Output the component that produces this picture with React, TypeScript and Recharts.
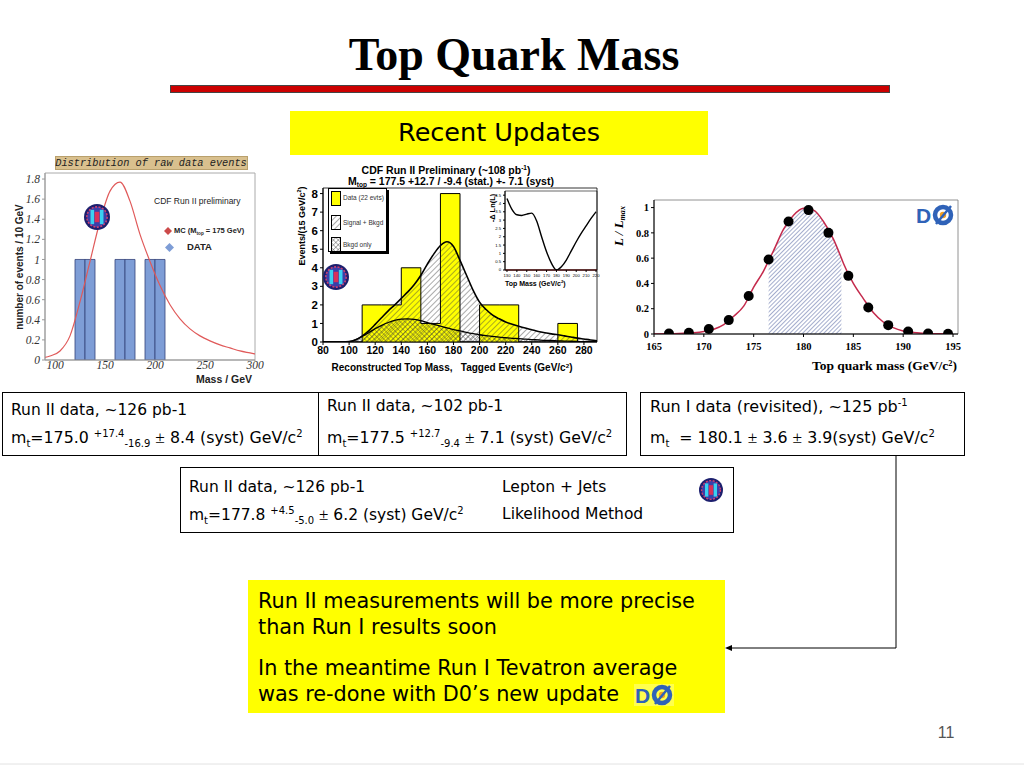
import React from "react";
import {
  ComposedChart,
  LineChart,
  Line,
  Area,
  Bar,
  Scatter,
  XAxis,
  YAxis,
  ReferenceArea,
  ReferenceLine,
} from "recharts";

// ---- left panel: distribution of raw data events (CDF Run II) ----
const MC_MASS = [85, 95, 105, 115, 125, 135, 145, 155, 165, 175, 185, 195, 205, 215, 225, 235, 245, 255, 265, 275, 285, 295, 305];
const MC_EVENTS = [0.015, 0.04, 0.09, 0.24, 0.58, 0.98, 1.38, 1.68, 1.77, 1.58, 1.25, 0.98, 0.74, 0.55, 0.41, 0.31, 0.24, 0.19, 0.15, 0.12, 0.09, 0.07, 0.05];
const RAW_BIN_CENTERS = [125, 135, 165, 175, 195, 205];
const RAW_BIN_EVENTS = [1, 1, 1, 1, 1, 1];
const RAW_X_TICKS = [100, 150, 200, 250, 300];
const RAW_Y_TICKS = [0, 0.2, 0.4, 0.6, 0.8, 1, 1.2, 1.4, 1.6, 1.8];

// ---- middle panel: reconstructed top mass, tagged events ----
const RECO_BIN_EDGES = [80, 95, 110, 125, 140, 155, 170, 185, 200, 215, 230, 245, 260, 275, 290];
const RECO_BIN_EVENTS = [0, 0, 2, 2, 4, 1, 8, 0, 2, 2, 0, 0, 1, 0, 0];
const RECO_MASS = [80, 85, 90, 95, 100, 105, 110, 115, 120, 125, 130, 135, 140, 145, 150, 155, 160, 165, 170, 175, 180, 185, 190, 195, 200, 205, 210, 215, 220, 225, 230, 235, 240, 245, 250, 255, 260, 265, 270, 275, 280, 285, 290];
const SIG_BKG = [0, 0, 0, 0, 0.02, 0.12, 0.32, 0.6, 0.95, 1.32, 1.68, 2.0, 2.35, 2.7, 3.1, 3.6, 4.2, 4.75, 5.2, 5.4, 5.15, 4.4, 3.6, 2.8, 2.15, 1.75, 1.45, 1.25, 1.08, 0.96, 0.85, 0.75, 0.66, 0.57, 0.5, 0.44, 0.39, 0.33, 0.27, 0.21, 0.16, 0.11, 0.07];
const BKG_ONLY = [0, 0, 0, 0, 0.02, 0.12, 0.3, 0.5, 0.72, 0.9, 1.05, 1.17, 1.23, 1.25, 1.22, 1.15, 1.05, 0.95, 0.85, 0.76, 0.67, 0.6, 0.52, 0.45, 0.39, 0.34, 0.3, 0.26, 0.23, 0.2, 0.18, 0.15, 0.13, 0.11, 0.09, 0.08, 0.06, 0.05, 0.04, 0.03, 0.02, 0.015, 0.01];
const RECO_X_TICKS = [80, 100, 120, 140, 160, 180, 200, 220, 240, 260, 280];
const RECO_Y_TICKS = [0, 1, 2, 3, 4, 5, 6, 7, 8];

// inset: -delta ln(L)
const INSET_MASS = [130, 135, 140, 145, 150, 155, 160, 165, 170, 175, 180, 185, 190, 195, 200, 205, 210, 215, 220];
const INSET_NLL = [4.3, 3.65, 3.32, 3.28, 3.36, 3.42, 2.95, 2.0, 1.1, 0.4, 0.0, 0.2, 0.6, 1.15, 1.7, 2.2, 2.65, 3.1, 3.5];
const INSET_X_TICKS = [130, 140, 150, 160, 170, 180, 190, 200, 210, 220];
const INSET_Y_TICKS = [0, 0.5, 1, 1.5, 2, 2.5, 3, 3.5, 4, 4.5];

// ---- right panel: D0 Run I likelihood ----
const D0_POINT_MASS = [166.5, 168.5, 170.5, 172.5, 174.5, 176.5, 178.5, 180.5, 182.5, 184.5, 186.5, 188.5, 190.5, 192.5, 194.5];
const D0_POINT_L = [0.003, 0.01, 0.04, 0.11, 0.3, 0.59, 0.89, 0.98, 0.8, 0.46, 0.21, 0.07, 0.02, 0.004, 0.002];
const D0_FIT_MASS = [165, 166, 167, 168, 169, 170, 171, 172, 173, 174, 175, 176, 176.5, 177, 178, 179, 180, 181, 182, 183, 183.8, 184, 185, 186, 187, 188, 189, 190, 191, 192, 193, 194, 195];
const D0_FIT_L = [0, 0.001, 0.002, 0.005, 0.01, 0.02, 0.038, 0.075, 0.14, 0.22, 0.37, 0.5, 0.58, 0.66, 0.83, 0.94, 0.995, 0.98, 0.89, 0.75, 0.6, 0.56, 0.4, 0.28, 0.17, 0.095, 0.05, 0.024, 0.011, 0.005, 0.002, 0.001, 0];
const D0_BAND = [176.5, 183.8];
const D0_X_TICKS = [165, 170, 175, 180, 185, 190, 195];
const D0_Y_TICKS = [0, 0.2, 0.4, 0.6, 0.8, 1];

const rawTable = MC_MASS.map((m, i) => {
  const b = RAW_BIN_CENTERS.indexOf(m);
  return { mass: m, mc: MC_EVENTS[i], data: b >= 0 ? RAW_BIN_EVENTS[b] : null };
});

const recoTable = RECO_MASS.map((m, i) => {
  const b = RECO_BIN_EDGES.indexOf(m);
  const v = b >= 0 ? RECO_BIN_EVENTS[b] : null;
  return { mass: m, sig: SIG_BKG[i], bkg: BKG_ONLY[i], data: v, edge: v };
});

const insetTable = INSET_MASS.map((m, i) => ({ mass: m, nll: INSET_NLL[i] }));

const d0Fit = D0_FIT_MASS.map((m, i) => ({
  mass: m,
  fit: D0_FIT_L[i],
  band: m >= D0_BAND[0] && m <= D0_BAND[1] ? D0_FIT_L[i] : null,
}));
const d0Points = D0_POINT_MASS.map((m, i) => ({ mass: m, L: D0_POINT_L[i] }));

const SERIF = '"Liberation Serif", "Times New Roman", serif';
const SANS = '"Liberation Sans", Arial, sans-serif';
const HAND = '"DejaVu Sans", sans-serif';

type LabelProps = {
  x: number;
  y: number;
  size: number;
  anchor?: "start" | "middle" | "end";
  rotate?: boolean;
  style?: React.CSSProperties;
  children: React.ReactNode;
};

function Label({ x, y, size, anchor = "start", rotate = false, style, children }: LabelProps) {
  const tx = anchor === "start" ? "0" : anchor === "middle" ? "-50%" : "-100%";
  return (
    <div
      style={{
        position: "absolute",
        left: x,
        top: y,
        fontSize: size,
        lineHeight: 1,
        whiteSpace: "pre",
        transform: rotate ? "translate(-50%,-50%) rotate(-90deg)" : `translate(${tx},-50%)`,
        ...style,
      }}
    >
      {children}
    </div>
  );
}

const sup: React.CSSProperties = { fontSize: "0.62em", verticalAlign: "0.55em", lineHeight: 0 };
const sub: React.CSSProperties = { fontSize: "0.62em", verticalAlign: "-0.3em", lineHeight: 0 };
// small fixed-size indices used in the result boxes
const bsup: React.CSSProperties = { fontSize: 10, verticalAlign: "0.6em", lineHeight: 0 };
const bsub: React.CSSProperties = { fontSize: 10, verticalAlign: "-0.35em", lineHeight: 0 };
const pm: React.CSSProperties = { fontFamily: SERIF, fontSize: "1.1em" };

function CdfLogo({ x, y, r }: { x: number; y: number; r: number }) {
  return (
    <svg style={{ position: "absolute", left: x - r, top: y - r }} width={2 * r} height={2 * r}>
      <circle cx={r} cy={r} r={r} fill="#1c1f6e" />
      <circle cx={r} cy={r} r={r * 0.78} fill="#3b3fa8" stroke="#d04070" strokeWidth={r * 0.12} strokeDasharray="2 1.5" />
      <rect x={r * 0.5} y={r * 0.45} width={r * 0.28} height={r * 1.1} fill="#3ad0f0" />
      <rect x={r * 1.22} y={r * 0.45} width={r * 0.28} height={r * 1.1} fill="#3ad0f0" />
      <rect x={r * 0.82} y={r * 0.6} width={r * 0.36} height={r * 0.8} fill="#d8305a" />
    </svg>
  );
}

function D0Logo({ x, y, w, h }: { x: number; y: number; w: number; h: number }) {
  return (
    <svg style={{ position: "absolute", left: x, top: y }} width={w} height={h} viewBox="0 0 40 22">
      <rect x={0} y={0} width={40} height={22} fill="#ffffff" opacity={0.3} />
      <text x={1} y={19} fontFamily={SANS} fontWeight={900} fontSize={21} fill="#2f62b8">D</text>
      <circle cx={28} cy={11} r={8} fill="none" stroke="#2f62b8" strokeWidth={4.5} />
      <circle cx={28} cy={11} r={3.2} fill="#f4a020" />
      <line x1={21} y1={20} x2={36} y2={2} stroke="#2f62b8" strokeWidth={2.5} />
    </svg>
  );
}

function Diamond({ x, y, s, fill }: { x: number; y: number; s: number; fill: string }) {
  return (
    <svg style={{ position: "absolute", left: x - s, top: y - s }} width={2 * s} height={2 * s}>
      <polygon points={`${s},0 ${2 * s},${s} ${s},${2 * s} 0,${s}`} fill={fill} />
    </svg>
  );
}

function Swatch({ x, y, fill }: { x: number; y: number; fill: string }) {
  return (
    <svg style={{ position: "absolute", left: x, top: y }} width={10} height={15}>
      <rect x={0.5} y={0.5} width={9} height={14} fill="#fff" stroke="none" />
      <rect x={0.5} y={0.5} width={9} height={14} fill={fill} stroke="#000" strokeWidth={1} />
    </svg>
  );
}

const box: React.CSSProperties = { position: "absolute", border: "1px solid #000", boxSizing: "border-box", background: "#fff" };

export default function App() {
  return (
    <div
      style={{
        position: "absolute",
        left: 0,
        top: 0,
        width: 1024,
        height: 768,
        background: "#fff",
        overflow: "hidden",
        fontFamily: HAND,
        color: "#000",
      }}
    >
      <svg width={0} height={0} style={{ position: "absolute" }}>
        <defs>
          <pattern id="hatchDiag" width={4} height={4} patternUnits="userSpaceOnUse" patternTransform="rotate(45)">
            <line x1={0} y1={0} x2={0} y2={4} stroke="#444" strokeWidth={0.9} />
          </pattern>
          <pattern id="hatchCross" width={3.4} height={3.4} patternUnits="userSpaceOnUse" patternTransform="rotate(45)">
            <line x1={0} y1={0} x2={0} y2={3.4} stroke="#333" strokeWidth={0.7} />
            <line x1={0} y1={0} x2={3.4} y2={0} stroke="#333" strokeWidth={0.7} />
          </pattern>
          <pattern id="hatchBlue" width={3} height={3} patternUnits="userSpaceOnUse" patternTransform="rotate(45)">
            <line x1={0} y1={0} x2={0} y2={3} stroke="#4a5c9c" strokeWidth={1} />
          </pattern>
        </defs>
      </svg>

      {/* title */}
      <Label x={514} y={55} size={46} anchor="middle" style={{ fontFamily: SERIF, fontWeight: 700 }}>
        Top Quark Mass
      </Label>
      <div style={{ position: "absolute", left: 170, top: 85, width: 720, height: 8, background: "#cc0000", border: "1px solid #444", boxSizing: "border-box" }} />
      <div style={{ position: "absolute", left: 290, top: 111, width: 418, height: 44, background: "#ffff00" }} />
      <Label x={499} y={133} size={25.5} anchor="middle">Recent Updates</Label>

      {/* ---- left panel ---- */}
      <div style={{ position: "absolute", left: 55, top: 156, width: 193, height: 14, background: "#d9c08e", border: "1px solid #b9a06c", boxSizing: "border-box" }} />
      <Label x={151} y={163} size={10.3} anchor="middle" style={{ fontFamily: '"Liberation Mono", monospace', fontStyle: "italic", color: "#222" }}>
        Distribution of raw data events
      </Label>
      <div style={{ position: "absolute", left: 0, top: 150 }}>
        <ComposedChart width={270} height={240} data={rawTable} margin={{ top: 23, right: 15, bottom: 0, left: 0 }} barCategoryGap={0} barGap={0}>
          <XAxis
            dataKey="mass"
            type="number"
            domain={[90, 300]}
            ticks={RAW_X_TICKS}
            allowDataOverflow
            height={30}
            stroke="#999"
            tickSize={1}
            tickMargin={0}
            tick={{ fontFamily: SERIF, fontStyle: "italic", fontSize: 11.5, fill: "#333" }}
          />
          <YAxis
            type="number"
            domain={[0, 1.86]}
            ticks={RAW_Y_TICKS}
            allowDataOverflow
            width={45}
            stroke="#999"
            tickSize={3}
            tick={{ fontFamily: SERIF, fontStyle: "italic", fontSize: 11.5, fill: "#333" }}
          />
          <ReferenceArea x1={90} x2={300} y1={0} y2={1.86} fill="none" stroke="#aaa" />
          <Bar dataKey="data" fill="#7e9dd6" stroke="#33427a" strokeWidth={0.8} isAnimationActive={false} />
          <Line dataKey="mc" type="monotone" stroke="#e05a5a" strokeWidth={1.2} dot={false} isAnimationActive={false} />
        </ComposedChart>
      </div>
      <CdfLogo x={97} y={217} r={13} />
      <Label x={154} y={201} size={8.5} style={{ fontFamily: SANS, color: "#222" }}>CDF Run II preliminary</Label>
      <Diamond x={168} y={231} s={4} fill="#cc4a4a" />
      <Label x={174} y={231} size={7.5} style={{ fontFamily: SANS, fontWeight: 700, color: "#222" }}>
        MC (M<span style={sub}>top</span> = 175 GeV)
      </Label>
      <Diamond x={169} y={247} s={4.5} fill="#7e9dd6" />
      <Label x={187} y={247} size={9.5} style={{ fontFamily: SANS, fontWeight: 700, color: "#222" }}>DATA</Label>
      <Label x={20} y={267} size={10} rotate style={{ fontFamily: SANS, fontWeight: 700, color: "#222" }}>
        number of events / 10 GeV
      </Label>
      <Label x={252} y={379} size={10.5} anchor="end" style={{ fontFamily: SANS, fontWeight: 700, color: "#222" }}>
        Mass / GeV
      </Label>

      {/* ---- middle panel ---- */}
      <Label x={446} y={170} size={10.5} anchor="middle" style={{ fontFamily: SANS, fontWeight: 700 }}>
        CDF Run II Preliminary (~108 pb<span style={sup}>-1</span>)
      </Label>
      <Label x={451} y={181} size={10.5} anchor="middle" style={{ fontFamily: SANS, fontWeight: 700 }}>
        M<span style={sub}>top</span> = 177.5 +12.7 / -9.4 (stat.) +- 7.1 (syst)
      </Label>
      <div style={{ position: "absolute", left: 290, top: 158 }}>
        <ComposedChart width={320} height={225} data={recoTable} margin={{ top: 30, right: 13, bottom: 21, left: 0 }}>
          <XAxis
            dataKey="mass"
            type="number"
            domain={[80, 290]}
            ticks={RECO_X_TICKS}
            allowDataOverflow
            height={20}
            stroke="#000"
            tickSize={3}
            tick={{ fontFamily: SANS, fontWeight: 700, fontSize: 10.5, fill: "#000" }}
          />
          <YAxis
            type="number"
            domain={[0, 8.3]}
            ticks={RECO_Y_TICKS}
            allowDataOverflow
            width={33}
            stroke="#000"
            tickSize={3}
            tick={{ fontFamily: SANS, fontWeight: 700, fontSize: 11.5, fill: "#000" }}
          />
          <ReferenceArea x1={80} x2={290} y1={0} y2={8.3} fill="none" stroke="#000" strokeWidth={0.8} />
          <Area dataKey="data" type="stepAfter" connectNulls fill="#ffff00" fillOpacity={1} stroke="none" isAnimationActive={false} />
          <Area dataKey="sig" type="monotone" fill="url(#hatchDiag)" fillOpacity={1} stroke="#000" strokeWidth={1.6} isAnimationActive={false} />
          <Area dataKey="bkg" type="monotone" fill="url(#hatchCross)" fillOpacity={1} stroke="#000" strokeWidth={1.3} isAnimationActive={false} />
          <Area dataKey="edge" type="stepAfter" connectNulls fill="none" stroke="#000" strokeWidth={1} isAnimationActive={false} />
        </ComposedChart>
      </div>
      <Label x={302} y={226} size={9} rotate style={{ fontFamily: SANS, fontWeight: 700 }}>
        Events/(15 GeV/c<span style={sup}>2</span>)
      </Label>
      <Label x={452} y={368} size={10} anchor="middle" style={{ fontFamily: SANS, fontWeight: 700 }}>
        {"Reconstructed Top Mass,   Tagged Events (GeV/c"}<span style={sup}>2</span>)
      </Label>
      <div style={{ position: "absolute", left: 328, top: 188, width: 59, height: 64, background: "#fff", border: "1px solid #000", boxShadow: "2px 2px 0 #000", boxSizing: "border-box" }} />
      <Swatch x={331} y={191} fill="#ffff00" />
      <Swatch x={331} y={215} fill="url(#hatchDiag)" />
      <Swatch x={331} y={237} fill="url(#hatchCross)" />
      <Label x={343} y={198} size={6.5} style={{ fontFamily: SANS, color: "#333" }}>Data (22 evts)</Label>
      <Label x={343} y={223} size={6.5} style={{ fontFamily: SANS, color: "#333" }}>Signal + Bkgd</Label>
      <Label x={343} y={245} size={6.5} style={{ fontFamily: SANS, color: "#333" }}>Bkgd only</Label>
      <CdfLogo x={336} y={277} r={13} />

      {/* inset */}
      <div style={{ position: "absolute", left: 487, top: 186 }}>
        <LineChart width={113} height={104} data={insetTable} margin={{ top: 5, right: 3, bottom: 12, left: 4 }}>
          <XAxis
            dataKey="mass"
            type="number"
            domain={[128, 221]}
            ticks={INSET_X_TICKS}
            allowDataOverflow
            height={8}
            stroke="#000"
            tickSize={2}
            interval={0}
            tick={{ fontFamily: SANS, fontSize: 4.2, fill: "#000" }}
          />
          <YAxis
            type="number"
            domain={[0, 4.75]}
            ticks={INSET_Y_TICKS}
            allowDataOverflow
            width={14}
            stroke="#000"
            tickSize={2}
            interval={0}
            tick={{ fontFamily: SANS, fontSize: 4.2, fill: "#000" }}
          />
          <ReferenceArea x1={128} x2={221} y1={0} y2={4.75} fill="none" stroke="#000" strokeWidth={0.6} />
          <ReferenceLine y={0} stroke="#d02020" strokeWidth={1.2} />
          <Line dataKey="nll" type="monotone" stroke="#000" strokeWidth={1.4} dot={false} isAnimationActive={false} />
        </LineChart>
      </div>
      <Label x={493} y={208} size={7.5} rotate style={{ fontFamily: SANS, fontWeight: 700 }}>-Δ Ln(L)</Label>
      <Label x={505} y={283} size={7} style={{ fontFamily: SANS, fontWeight: 700 }}>
        Top Mass (GeV/c<span style={sup}>2</span>)
      </Label>

      {/* ---- right panel ---- */}
      <div style={{ position: "absolute", left: 610, top: 190 }}>
        <ComposedChart width={370} height={190} data={d0Fit} margin={{ top: 10, right: 22, bottom: 26, left: 0 }}>
          <XAxis
            dataKey="mass"
            type="number"
            domain={[165, 195.5]}
            ticks={D0_X_TICKS}
            allowDataOverflow
            height={20}
            stroke="#000"
            tickSize={3}
            tickMargin={6}
            tick={{ fontFamily: SERIF, fontWeight: 700, fontSize: 10.5, fill: "#000" }}
          />
          <YAxis
            type="number"
            domain={[0, 1.06]}
            ticks={D0_Y_TICKS}
            allowDataOverflow
            width={44}
            stroke="#000"
            tickSize={3}
            tick={{ fontFamily: SERIF, fontWeight: 700, fontSize: 10.5, fill: "#000" }}
          />
          <ReferenceArea x1={165} x2={195.5} y1={0} y2={1.06} fill="none" stroke="#777" strokeWidth={0.8} />
          <Area dataKey="band" type="monotone" fill="url(#hatchBlue)" fillOpacity={1} stroke="none" isAnimationActive={false} />
          <Line dataKey="fit" type="monotone" stroke="#c42a4c" strokeWidth={1.5} dot={false} isAnimationActive={false} />
          <Scatter
            data={d0Points}
            dataKey="L"
            fill="#000"
            isAnimationActive={false}
            shape={(p: any) => <circle cx={p.cx} cy={p.cy} r={5} fill="#000" />}
          />
        </ComposedChart>
      </div>
      <D0Logo x={915} y={204} w={40} h={22} />
      <Label x={618} y={226} size={13} rotate style={{ fontFamily: SERIF, fontWeight: 700, fontStyle: "italic" }}>
        L / L<span style={sub}>max</span>
      </Label>
      <Label x={957} y={366} size={13.5} anchor="end" style={{ fontFamily: SERIF, fontWeight: 700 }}>
        Top quark mass (GeV/c<span style={sup}>2</span>)
      </Label>

      {/* ---- result boxes ---- */}
      <div style={{ ...box, left: 2, top: 392, width: 317, height: 64 }} />
      <div style={{ ...box, left: 318, top: 392, width: 309, height: 64 }} />
      <div style={{ ...box, left: 640, top: 392, width: 325, height: 64 }} />
      <div style={{ ...box, left: 180, top: 467, width: 554, height: 66 }} />

      <Label x={11} y={411} size={15.5}>Run II data, ~126 pb-1</Label>
      <Label x={11} y={438} size={15.8}>
        m<span style={bsub}>t</span>=175.0 <span style={bsup}>+17.4</span>
        <span style={bsub}>-16.9</span> <span style={pm}>±</span> 8.4 (syst) GeV/c<span style={bsup}>2</span>
      </Label>

      <Label x={327} y={407} size={15.5}>Run II data, ~102 pb-1</Label>
      <Label x={327} y={438} size={15.8}>
        m<span style={bsub}>t</span>=177.5 <span style={bsup}>+12.7</span>
        <span style={bsub}>-9.4</span> <span style={pm}>±</span> 7.1 (syst) GeV/c<span style={bsup}>2</span>
      </Label>

      <Label x={650} y={407} size={16}>
        Run I data (revisited), ~125 pb<span style={bsup}>-1</span>
      </Label>
      <Label x={650} y={438} size={15.8}>
        m<span style={bsub}>t</span>
        {"  = 180.1 "}
        <span style={pm}>±</span> 3.6 <span style={pm}>±</span> 3.9(syst) GeV/c
        <span style={bsup}>2</span>
      </Label>

      <Label x={189} y={488} size={15.5}>Run II data, ~126 pb-1</Label>
      <Label x={189} y={515} size={15.5}>
        m<span style={bsub}>t</span>=177.8 <span style={bsup}>+4.5</span>
        <span style={bsub}>-5.0</span> <span style={pm}>±</span> 6.2 (syst) GeV/c<span style={bsup}>2</span>
      </Label>
      <Label x={502} y={488} size={15.5}>Lepton + Jets</Label>
      <Label x={502} y={515} size={15.5}>Likelihood Method</Label>
      <CdfLogo x={711} y={490} r={12} />

      {/* arrow */}
      <svg style={{ position: "absolute", left: 0, top: 0 }} width={1024} height={768}>
        <polyline points="896,455 896,648 730,648" fill="none" stroke="#000" strokeWidth={1} />
        <polygon points="725,648 732,645 732,651" fill="#000" />
        <line x1={0} y1={764} x2={1024} y2={764} stroke="#e2e2e2" strokeWidth={1} />
      </svg>

      {/* conclusion box */}
      <div style={{ position: "absolute", left: 248, top: 580, width: 477, height: 133, background: "#ffff00" }} />
      <Label x={258} y={601} size={20.8}>Run II measurements will be more precise</Label>
      <Label x={258} y={627} size={20.8}>than Run I results soon</Label>
      <Label x={258} y={668} size={20.8}>In the meantime Run I Tevatron average</Label>
      <Label x={258} y={694} size={20.8}>was re-done with D0’s new update</Label>
      <D0Logo x={633} y={684} w={42} h={22} />

      <Label x={946} y={733} size={16} anchor="middle" style={{ fontFamily: SANS, color: "#555" }}>11</Label>
    </div>
  );
}
